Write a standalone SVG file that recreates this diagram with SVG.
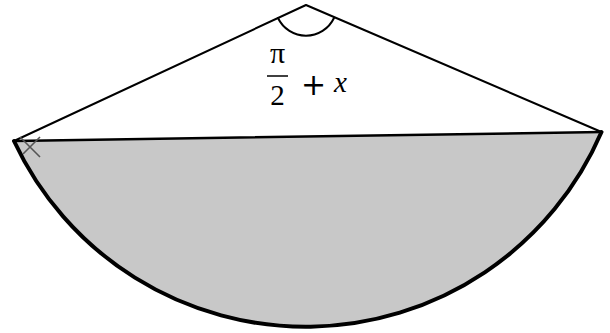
<svg xmlns="http://www.w3.org/2000/svg" width="610" height="333" viewBox="0 0 610 333">
<style>
.ln{stroke:#000;fill:none;stroke-linecap:round;stroke-linejoin:round}
.t{font-family:"Liberation Serif","DejaVu Serif",serif;fill:#000}
</style>
<rect width="610" height="333" fill="#fff"/>
<g id="segment">
<path d="M14,141 A322,322 0 0 0 601.5,132 Z" fill="#c8c8c8" stroke="none"/>
<path class="ln" d="M14,141 A322,322 0 0 0 601.5,132" stroke-width="4"/>
</g>
<g id="connectors">
<path class="ln" d="M14,141 L306,5 L601.5,132" stroke-width="2"/>
<path class="ln" d="M14,141 L601.5,132" stroke-width="2.5"/>
<path class="ln" d="M278,18 A31,31 0 0 0 334,18" stroke-width="2"/>
<path d="M20,137 L40,157 M40,137 L23,154" stroke="#555" stroke-width="1.6" fill="none"/>
</g>
<g id="label">
<text class="t" x="277.5" y="63" font-size="30" text-anchor="middle">π</text>
<line x1="267" y1="76" x2="288" y2="76" stroke="#000" stroke-width="1.5"/>
<text class="t" x="277.5" y="105" font-size="29" text-anchor="middle">2</text>
<text x="313.5" y="95" font-size="30" text-anchor="middle" font-family="DejaVu Sans, sans-serif">+</text>
<text class="t" x="334" y="92" font-size="29" font-style="italic">x</text>
</g>
</svg>
